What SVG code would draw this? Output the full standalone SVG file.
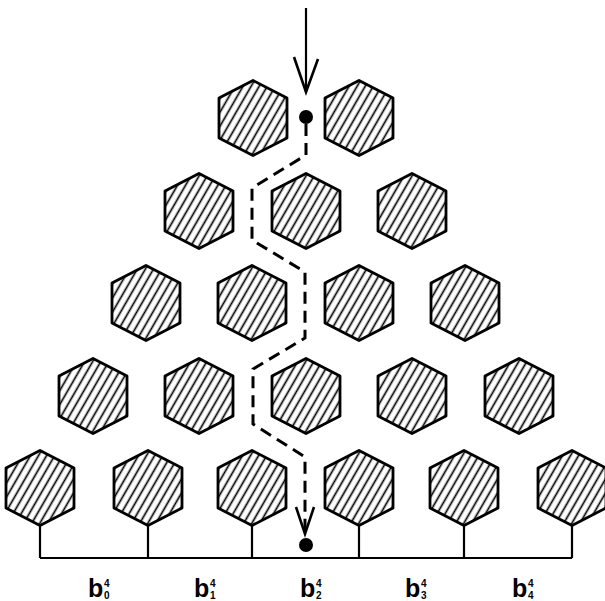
<svg xmlns="http://www.w3.org/2000/svg" xmlns:xlink="http://www.w3.org/1999/xlink" width="605" height="601" viewBox="0 0 605 601">
<style>
.hex{stroke:#000;stroke-width:2.8;stroke-linejoin:round;fill:url(#hatch)}
.ln{stroke:#000;stroke-width:2.2;fill:none}
.arr{stroke:#000;stroke-width:2.6;fill:none;stroke-linejoin:miter}
.path{stroke:#000;stroke-width:3;fill:none;stroke-dasharray:12 7}
.lbl{font-family:"Liberation Sans",Arial,sans-serif;font-weight:bold;font-size:25px;fill:#000}
.sm{font-size:10px}
</style>
<defs>
<pattern id="hatch" patternUnits="userSpaceOnUse" width="7" height="12" patternTransform="rotate(30)">
<rect width="7" height="12" fill="#fff"/>
<line x1="3.5" y1="0" x2="3.5" y2="12" stroke="#000" stroke-width="1.7"/>
</pattern>
<polygon id="hx" class="hex" points="0,-37.5 34,-20 34,20 0,37.5 -34,20 -34,-20"/>
</defs>
<rect width="605" height="601" fill="#fff"/>
<g id="nodes">
<g id="h1a"><use xlink:href="#hx" x="253" y="118"/></g>
<g id="h1b"><use xlink:href="#hx" x="359" y="118"/></g>
<g id="h2a"><use xlink:href="#hx" x="199" y="211"/></g>
<g id="h2b"><use xlink:href="#hx" x="306" y="211"/></g>
<g id="h2c"><use xlink:href="#hx" x="412" y="211"/></g>
<g id="h3a"><use xlink:href="#hx" x="146" y="303"/></g>
<g id="h3b"><use xlink:href="#hx" x="252" y="303"/></g>
<g id="h3c"><use xlink:href="#hx" x="359" y="303"/></g>
<g id="h3d"><use xlink:href="#hx" x="465" y="303"/></g>
<g id="h4a"><use xlink:href="#hx" x="93" y="396"/></g>
<g id="h4b"><use xlink:href="#hx" x="199" y="396"/></g>
<g id="h4c"><use xlink:href="#hx" x="306" y="396"/></g>
<g id="h4d"><use xlink:href="#hx" x="412" y="396"/></g>
<g id="h4e"><use xlink:href="#hx" x="519" y="396"/></g>
<g id="h5a"><use xlink:href="#hx" x="40" y="488"/></g>
<g id="h5b"><use xlink:href="#hx" x="148" y="488"/></g>
<g id="h5c"><use xlink:href="#hx" x="252" y="488"/></g>
<g id="h5d"><use xlink:href="#hx" x="359" y="488"/></g>
<g id="h5e"><use xlink:href="#hx" x="464" y="488"/></g>
<g id="h5f"><use xlink:href="#hx" x="572" y="488"/></g>
<g id="dotTop"><circle cx="306" cy="117" r="7"/></g>
<g id="dotBottom"><circle cx="306" cy="545" r="7"/></g>
</g>
<g id="connectors">
<path class="ln" d="M40,525 V558 M148,525 V558 M252,525 V558 M359,525 V558 M464,525 V558 M572,525 V558 M40,558 H572"/>
<line class="ln" x1="306" y1="8" x2="306" y2="92"/>
<path class="arr" d="M294,57 L306,92 L318,59"/>
<path class="path" d="M306,124 V155 L252,188 V240 L305,272 V338 L253,369 V424 L305,457 V533"/>
<path class="arr" d="M296,507 L305,534 L314,507"/>
</g>
<g id="labels">
<text class="lbl" x="88" y="597">b<tspan class="sm" x="104" y="587">4</tspan><tspan class="sm" x="104" y="599">0</tspan></text>
<text class="lbl" x="194" y="597">b<tspan class="sm" x="210" y="587">4</tspan><tspan class="sm" x="210" y="599">1</tspan></text>
<text class="lbl" x="300" y="597">b<tspan class="sm" x="316" y="587">4</tspan><tspan class="sm" x="316" y="599">2</tspan></text>
<text class="lbl" x="405" y="597">b<tspan class="sm" x="421" y="587">4</tspan><tspan class="sm" x="421" y="599">3</tspan></text>
<text class="lbl" x="512" y="597">b<tspan class="sm" x="528" y="587">4</tspan><tspan class="sm" x="528" y="599">4</tspan></text>
</g>
</svg>
